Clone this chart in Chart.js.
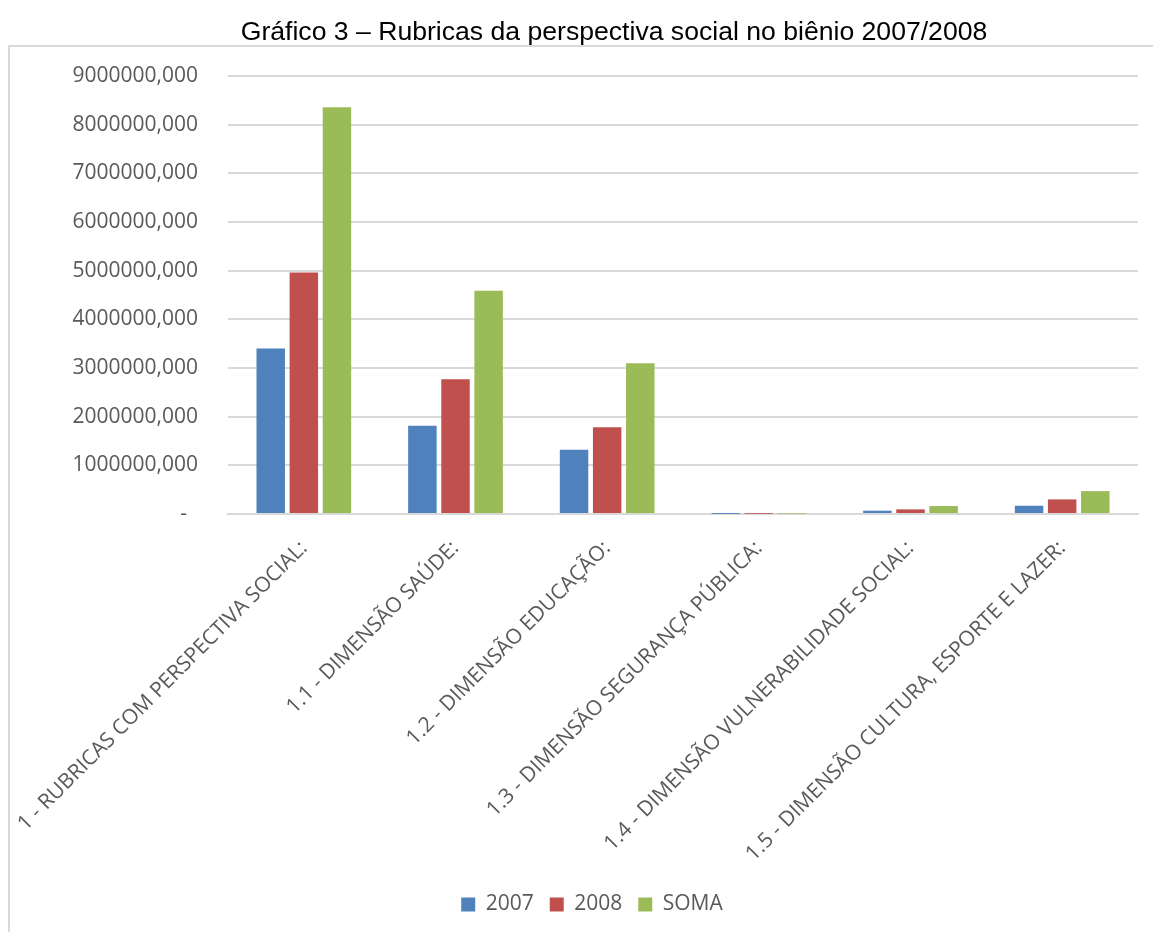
<!DOCTYPE html>
<html>
<head>
<meta charset="utf-8">
<script src="https://cdn.jsdelivr.net/npm/chart.js@4"></script>
<style>
html,body{margin:0;padding:0;background:#fff;}
#wrap{width:1153px;height:932px;position:relative;}
</style>
</head>
<body>
<div id="wrap"><canvas id="c" width="1153" height="932"></canvas></div>
<script>
const categories = [
  "1 - RUBRICAS COM PERSPECTIVA SOCIAL:",
  "1.1 - DIMENSÃO SAÚDE:",
  "1.2 - DIMENSÃO EDUCAÇÃO:",
  "1.3 - DIMENSÃO SEGURANÇA PÚBLICA:",
  "1.4 - DIMENSÃO VULNERABILIDADE SOCIAL:",
  "1.5 - DIMENSÃO CULTURA, ESPORTE E LAZER:"
];
const values2007 = [3400000, 1815000, 1320000, 3000, 68000, 170000];
const values2008 = [4960000, 2770000, 1780000, 5000, 95000, 300000];
const valuesSoma = [8360000, 4585000, 3100000, 8000, 163000, 470000];
const seriesNames = ["2007", "2008", "SOMA"];
const yTicks = [0, 1000000, 2000000, 3000000, 4000000, 5000000, 6000000, 7000000, 8000000, 9000000];
const titleText = "Gráfico 3 – Rubricas da perspectiva social no biênio 2007/2008";

const framePlugin = {
  id: 'frame',
  beforeDraw(chart) {
    const ctx = chart.ctx;
    ctx.save();
    ctx.fillStyle = '#ffffff';
    ctx.fillRect(0, 0, chart.width, chart.height);
    ctx.strokeStyle = '#d9d9d9';
    ctx.lineWidth = 2;
    ctx.strokeRect(9, 46, chart.width + 20, chart.height + 20);
    ctx.fillStyle = '#000000';
    ctx.font = '26.6px "Liberation Sans", Arial, sans-serif';
    ctx.textAlign = 'center';
    ctx.textBaseline = 'middle';
    ctx.fillText(titleText, 614, 33);
    ctx.restore();
  }
};

new Chart(document.getElementById('c'), {
  type: 'bar',
  data: {
    labels: categories,
    datasets: [
      { label: seriesNames[0], data: values2007, backgroundColor: '#4f81bd' },
      { label: seriesNames[1], data: values2008, backgroundColor: '#c0504d' },
      { label: seriesNames[2], data: valuesSoma, backgroundColor: '#9bbb59' }
    ]
  },
  plugins: [framePlugin],
  options: {
    responsive: false,
    animation: false,
    devicePixelRatio: 1,
    datasets: { bar: { barPercentage: 0.86, categoryPercentage: 0.655 } },
    layout: { padding: { left: 46, right: 15, top: 76, bottom: 7 } },
    plugins: {
      title: { display: false },
      legend: {
        position: 'bottom',
        labels: {
          boxWidth: 14, boxHeight: 14,
          color: '#595959',
          font: { family: 'Open Sans', size: 21 },
          padding: 16
        }
      },
      tooltip: { enabled: false }
    },
    scales: {
      x: {
        grid: { display: false, drawTicks: false },
        border: { display: true, color: '#d9d9d9', width: 2 },
        ticks: {
          autoSkip: false, minRotation: 45, maxRotation: 45,
          color: '#595959',
          font: { family: 'Open Sans', size: 21 },
          padding: 22
        },
        afterFit(scale) { scale.height = 364; scale.paddingLeft = 0; scale.paddingRight = 0; }
      },
      y: {
        min: 0, max: 9000000,
        afterBuildTicks(scale) { scale.ticks = yTicks.map(v => ({ value: v })); },
        grid: { color: '#d9d9d9', lineWidth: 2, drawTicks: false },
        border: { display: false },
        ticks: {
          color: '#595959',
          font: { family: 'Open Sans', size: 21 },
          padding: 30,
          callback(v) { return v === 0 ? '-  ' : String(v) + ',000'; }
        },
        afterFit(scale) { scale.width = 182; }
      }
    }
  }
});
</script>
</body>
</html>
